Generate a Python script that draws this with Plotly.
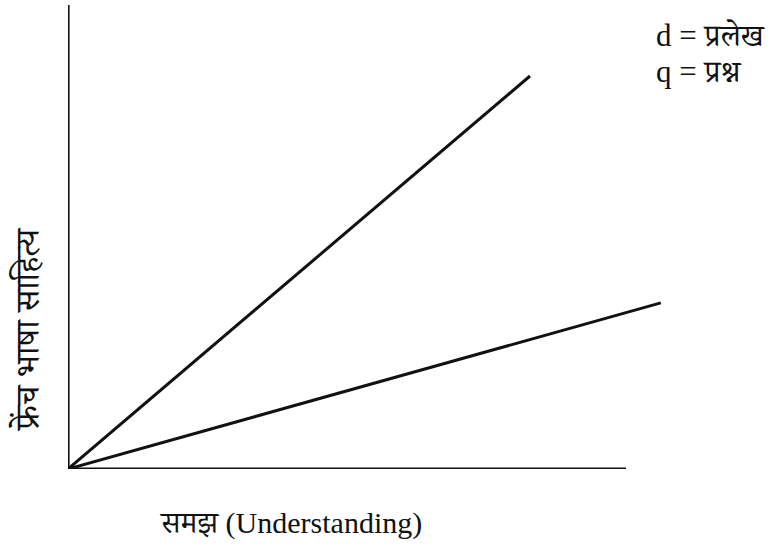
import plotly.graph_objects as go

# Two relationships drawn as straight lines from the origin
series_names = ["d", "q"]
line_x = [[0.0, 0.77], [0.0, 0.988]]
line_y = [[0.0, 0.847], [0.0, 0.358]]

# Axis extents (unitless)
x_axis_x = [0.0, 0.93]
x_axis_y = [0.0, 0.0]
y_axis_x = [0.0, 0.0]
y_axis_y = [0.0, 1.0]

legend_lines = ["d = प्रलेख", "q = प्रश्न"]
x_title = "समझ (Understanding)"
y_title = "फ्रेंच भाषा साहित्य"

FONT = "Liberation Serif, Times New Roman, Noto Serif Devanagari, serif"
INK = "#111111"

fig = go.Figure()

# Axes drawn as plain lines
fig.add_trace(go.Scatter(x=x_axis_x, y=x_axis_y, mode="lines",
                         line=dict(color=INK, width=3.2), showlegend=False,
                         hoverinfo="skip"))
fig.add_trace(go.Scatter(x=y_axis_x, y=y_axis_y, mode="lines",
                         line=dict(color=INK, width=3.2), showlegend=False,
                         hoverinfo="skip"))

for name, xs, ys in zip(series_names, line_x, line_y):
    fig.add_trace(go.Scatter(x=xs, y=ys, mode="lines", name=name,
                             line=dict(color=INK, width=3),
                             showlegend=False))


def px_x(p):
    return (p - 68) / 600


def px_y(p):
    return (469 - p) / 464


fig.update_layout(
    width=775, height=548,
    margin=dict(l=68, r=107, t=5, b=79),
    paper_bgcolor="white", plot_bgcolor="white",
    xaxis=dict(range=[0, 1], visible=False, fixedrange=True),
    yaxis=dict(range=[0, 1], visible=False, fixedrange=True),
    font=dict(family=FONT, color=INK, size=22),
    annotations=[
        dict(text=legend_lines[0], xref="paper", yref="paper",
             x=px_x(654), y=px_y(35),
             xanchor="left", yanchor="middle", showarrow=False,
             font=dict(size=31)),
        dict(text=legend_lines[1], xref="paper", yref="paper",
             x=px_x(654), y=px_y(71),
             xanchor="left", yanchor="middle", showarrow=False,
             font=dict(size=31)),
        dict(text=x_title, xref="paper", yref="paper",
             x=px_x(157), y=px_y(523),
             xanchor="left", yanchor="middle", showarrow=False,
             font=dict(size=30)),
        dict(text=y_title, xref="paper", yref="paper",
             x=px_x(27), y=px_y(330),
             xanchor="center", yanchor="middle", showarrow=False,
             textangle=-90, font=dict(size=34)),
    ],
)

fig.write_html("out.html")
